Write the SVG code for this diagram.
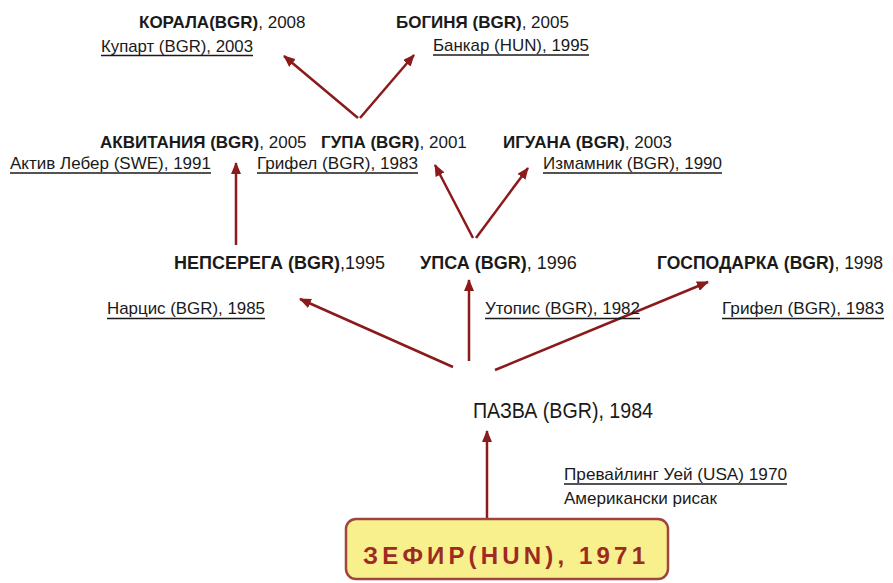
<svg xmlns="http://www.w3.org/2000/svg" width="893" height="583" viewBox="0 0 893 583">
<defs>
<marker id="ah" viewBox="0 0 12 10" refX="11" refY="5" markerWidth="12" markerHeight="10" markerUnits="userSpaceOnUse" orient="auto">
<path d="M0,0 L12,5 L0,10 Z" fill="#8b1a1a"/>
</marker>
<style>
.n{font-family:"Liberation Sans",Arial,sans-serif;font-size:17px;fill:#1a1a1a}
.b{font-weight:bold}
.r{font-family:"Liberation Sans",Arial,sans-serif;font-size:17px;fill:#1a1a1a}
.u{stroke:#1a1a1a;stroke-width:1.5}
.c{stroke:#8b1a1a;stroke-width:2.5;fill:none;marker-end:url(#ah)}
</style>
</defs>
<rect width="893" height="583" fill="#fff"/>
<g id="connectors">
<line class="c" x1="358" y1="118" x2="284" y2="56"/>
<line class="c" x1="360" y1="118" x2="414" y2="55"/>
<line class="c" x1="236" y1="245" x2="236" y2="163"/>
<line class="c" x1="473" y1="238" x2="435" y2="165"/>
<line class="c" x1="476" y1="238" x2="528" y2="168"/>
<line class="c" x1="453" y1="367" x2="300" y2="299"/>
<line class="c" x1="469" y1="361" x2="469" y2="280"/>
<line class="c" x1="495" y1="370" x2="708" y2="282"/>
<line class="c" x1="487" y1="518" x2="487" y2="431"/>
</g>
<g id="korala">
<text class="n" x="139" y="28"><tspan class="b">КОРАЛА(BGR)</tspan>, 2008</text>
<text class="r" x="101" y="52" textLength="152" lengthAdjust="spacingAndGlyphs">Купарт (BGR), 2003</text>
<line class="u" x1="101" y1="55.5" x2="253" y2="55.5"/>
</g>
<g id="boginya">
<text class="n" x="396" y="28"><tspan class="b">БОГИНЯ (BGR)</tspan>, 2005</text>
<text class="r" x="433" y="51" textLength="156" lengthAdjust="spacingAndGlyphs">Банкар (HUN), 1995</text>
<line class="u" x1="433" y1="55" x2="589" y2="55"/>
</g>
<g id="akvitaniya">
<text class="n" x="100" y="148"><tspan class="b">АКВИТАНИЯ (BGR)</tspan>, 2005</text>
<text class="r" x="10" y="169" textLength="201" lengthAdjust="spacingAndGlyphs">Актив Лебер (SWE), 1991</text>
<line class="u" x1="10" y1="173" x2="211" y2="173"/>
</g>
<g id="gupa">
<text class="n" x="321" y="148"><tspan class="b">ГУПА (BGR)</tspan>, 2001</text>
<text class="r" x="257" y="169" textLength="161" lengthAdjust="spacingAndGlyphs">Грифел (BGR), 1983</text>
<line class="u" x1="257" y1="173" x2="418" y2="173"/>
</g>
<g id="iguana">
<text class="n" x="503" y="148"><tspan class="b">ИГУАНА (BGR)</tspan>, 2003</text>
<text class="r" x="543" y="169" textLength="179" lengthAdjust="spacingAndGlyphs">Измамник (BGR), 1990</text>
<line class="u" x1="543" y1="173" x2="722" y2="173"/>
</g>
<g id="nepserega">
<text class="n" x="174" y="269" style="font-size:18px"><tspan class="b">НЕПСЕРЕГА (BGR)</tspan>,1995</text>
<text class="r" x="107" y="314" textLength="158" lengthAdjust="spacingAndGlyphs">Нарцис (BGR), 1985</text>
<line class="u" x1="107" y1="318.5" x2="265" y2="318.5"/>
</g>
<g id="upsa">
<text class="n" x="420" y="269" style="font-size:18px"><tspan class="b">УПСА (BGR)</tspan>, 1996</text>
<text class="r" x="485" y="314" textLength="155" lengthAdjust="spacingAndGlyphs">Утопис (BGR), 1982</text>
<line class="u" x1="485" y1="318.5" x2="640" y2="318.5"/>
</g>
<g id="gospodarka">
<text class="n" x="657" y="269" style="font-size:17.5px"><tspan class="b">ГОСПОДАРКА (BGR)</tspan>, 1998</text>
<text class="r" x="722" y="314" textLength="162" lengthAdjust="spacingAndGlyphs">Грифел (BGR), 1983</text>
<line class="u" x1="722" y1="318.5" x2="884" y2="318.5"/>
</g>
<g id="pazva">
<text x="473" y="418" textLength="180" lengthAdjust="spacingAndGlyphs" style="font-family:'Liberation Sans',Arial,sans-serif;font-size:22px;fill:#1a1a1a">ПАЗВА (BGR), 1984</text>
</g>
<g id="zefir-sire">
<text class="r" x="564" y="480" textLength="223" lengthAdjust="spacingAndGlyphs">Превайлинг Уей (USA) 1970</text>
<line class="u" x1="564" y1="484" x2="787" y2="484"/>
<text class="r" x="564" y="504" textLength="153" lengthAdjust="spacingAndGlyphs">Американски рисак</text>
</g>
<g id="zefir">
<rect x="346" y="519" width="322" height="60" rx="10" ry="10" fill="#f8f08c" stroke="#a0443e" stroke-width="2.5"/>
<text x="363" y="564" textLength="282" lengthAdjust="spacing" style="font-family:'Liberation Sans',Arial,sans-serif;font-size:24px;font-weight:bold;fill:#9e2a24">ЗЕФИР(HUN), 1971</text>
</g>
</svg>
